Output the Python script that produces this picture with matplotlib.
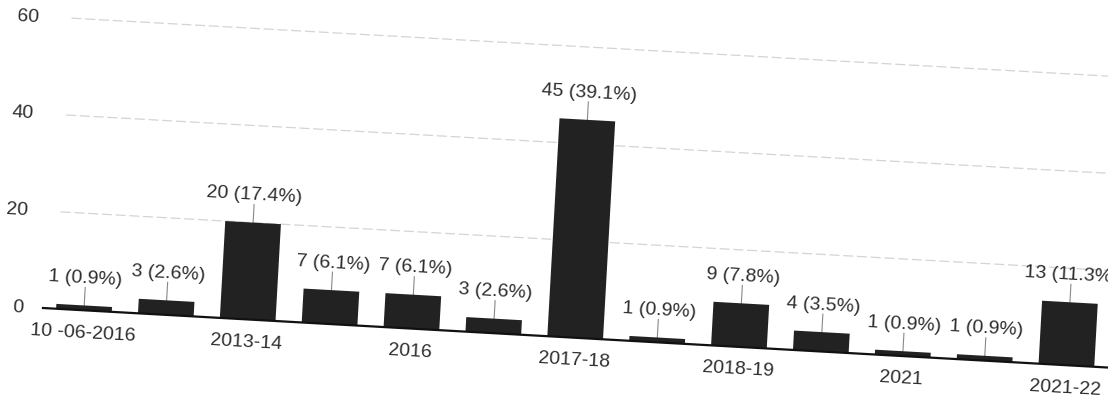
import numpy as np
import matplotlib
matplotlib.use('Agg')
import matplotlib.pyplot as plt
from matplotlib.transforms import Affine2D

tick_labels = ['10 -06-2016', '', '2013-14', '', '2016', '', '2017-18', '',
               '2018-19', '', '2021', '', '2021-22']
counts = [1, 3, 20, 7, 7, 3, 45, 1, 9, 4, 1, 1, 13]
percents = [0.9, 2.6, 17.4, 6.1, 6.1, 2.6, 39.1, 0.9, 7.8, 3.5, 0.9, 0.9, 11.3]
yticks = [0, 20, 40, 60]

plt.rcParams['font.family'] = ['Liberation Sans', 'DejaVu Sans']

W, H = 1108, 402
fig = plt.figure(figsize=(W / 100, H / 100), dpi=100)
fig.patch.set_facecolor('white')

# axes placed in pixels: x from -0.5 to 12.5 (82 px per bar), y 0..60
left, bottom = 43, 93
px_x, px_y = 82, 4.85
ax = fig.add_axes([left / W, bottom / H, 13 * px_x / W, 60 * px_y / H])
ax.set_xlim(-0.5, 12.5)
ax.set_ylim(0, 60)
ax.axis('off')

# the photo of the page is tilted, rotate everything around the origin
angle = -3.2
rot = Affine2D().rotate_deg_around(left, bottom, angle)
trans = ax.transData + rot

x = np.arange(len(counts))
txt_col = '#2e2e2e'
fs = 14

# grid
for v in yticks[1:]:
    ax.plot([-0.35, 13.2], [v, v], color='#d4d4d4', lw=0.9, ls=(0, (8, 3)),
            transform=trans, clip_on=False)

for v in yticks:
    ax.text(-0.5 - 20 / px_x, v, str(v), transform=trans, ha='right', va='center',
            fontsize=fs, color=txt_col, rotation=angle, rotation_mode='anchor',
            clip_on=False)

# bars
ax.bar(x, counts, width=0.68, color='#222222', transform=trans, clip_on=False,
       zorder=3)

# baseline
ax.plot([-0.5, 13.2], [0, 0], color='#111111', lw=1.6, transform=trans,
        clip_on=False, zorder=4)

# value labels with small leader lines
for xi, c, p in zip(x, counts, percents):
    ax.plot([xi, xi], [c, c + 18 / px_y], color='#888888', lw=0.8,
            transform=trans, clip_on=False)
    ax.text(xi, c + 28 / px_y, f'{c} ({p}%)', transform=trans, ha='center',
            va='center', fontsize=fs, color=txt_col, rotation=angle,
            rotation_mode='anchor', clip_on=False)

# category labels
for xi, lab in zip(x, tick_labels):
    if lab:
        ax.text(xi, -22 / px_y, lab, transform=trans, ha='center', va='center',
                fontsize=fs, color=txt_col, rotation=angle,
                rotation_mode='anchor', clip_on=False)

fig.savefig('out.png', dpi=100, facecolor='white')
